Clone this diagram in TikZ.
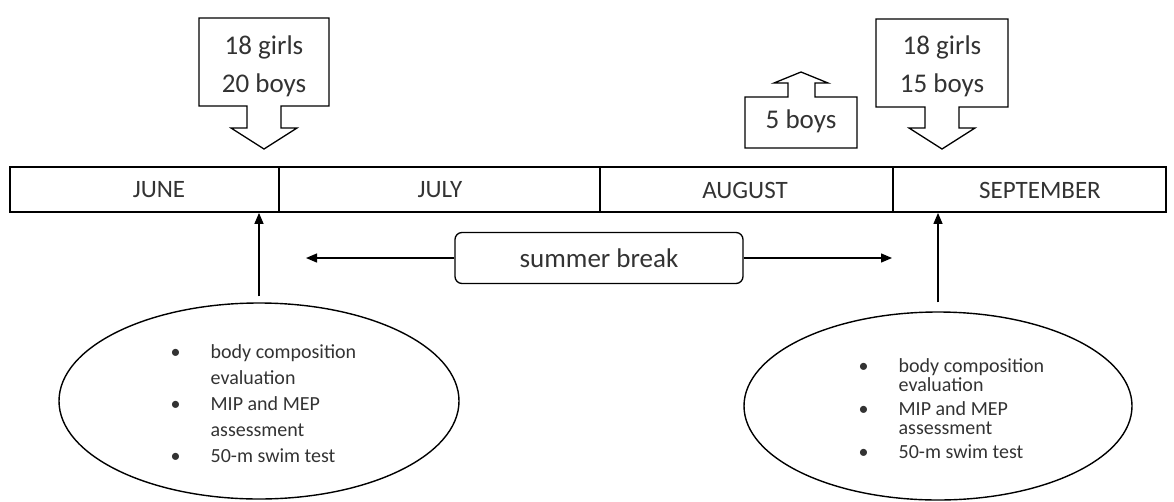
\documentclass[tikz,border=0pt]{standalone}
\usepackage{fontspec}
\setmainfont{Carlito}
\usetikzlibrary{arrows.meta, shapes.geometric}

\begin{document}
\begin{tikzpicture}[x=1pt, y=-1pt, line width=1.3pt,
    month/.style={font=\fontsize{25}{30}\selectfont, text=black!80},
    count/.style={font=\fontsize{27}{38}\selectfont, align=center, text=black!80},
    plan/.style={ellipse, draw, line width=1.4pt, inner sep=0pt},
    tests/.style={anchor=base west, inner sep=0pt, font=\fontsize{20}{26}\selectfont, text=black!80},
    >={Triangle[length=11pt, width=9pt]}]
    \useasboundingbox (0,0) rectangle (1174,501);
    \node[draw, line width=1.8pt, minimum width=1156pt, minimum height=45pt, inner sep=0pt] (bar) at (588,189.5) {};
    \foreach \x in {279,600,893} \draw[line width=1.8pt] (\x,167) -- (\x,212);
    \node[month] (june) at (159,190) {JUNE};
    \node[month] (july) at (440,190) {JULY};
    \node[month] (august) at (745,190) {AUGUST};
    \node[month] (september) at (1040,190) {SEPTEMBER};
    \draw (199,18) -- (329,18) -- (329,106) -- (281,106) -- (281,128) -- (297,128) -- (264,149) -- (231,128) -- (247,128) -- (247,106) -- (199,106) -- cycle;
    \node[count] (inJune) at (264,66) {18 girls\\20 boys};
    \draw (876,19) -- (1008,19) -- (1008,107) -- (959,107) -- (959,128) -- (975,128) -- (942,149) -- (909,128) -- (925,128) -- (925,107) -- (876,107) -- cycle;
    \node[count] (inSept) at (942,66) {18 girls\\15 boys};
    \draw (745,148) -- (745,97) -- (788,97) -- (788,83) -- (774,83) -- (801,72) -- (828,83) -- (815,83) -- (815,97) -- (857,97) -- (857,148) -- cycle;
    \node[count] (outAug) at (801,121) {5 boys};
    \node[draw, rounded corners=7pt, minimum width=288pt, minimum height=51pt, count] (break) at (599,258) {summer break};
    \coordinate (breakL) at (306,258);
    \coordinate (breakR) at (892,258);
    \draw[->] (break) -- (breakL);
    \draw[->] (break) -- (breakR);
    \node[plan, minimum width=400pt, minimum height=196pt] (testsJune) at (259,401) {};
    \node[plan, minimum width=388pt, minimum height=188pt] (testsSept) at (938,406) {};
    \draw[->, shorten <=6pt] (testsJune.north) -- (testsJune.north |- bar.south);
    \draw[->, shorten <=9pt] (testsSept.north) -- (testsSept.north |- bar.south);
    \node[tests] (listJune) at (170,358) {\begin{tabular}[t]{@{}p{40pt}@{}l@{}}
        \textbullet & body composition\\ & evaluation\\ \textbullet & MIP and MEP\\ & assessment\\ \textbullet & 50-m swim test
    \end{tabular}};
    \node[tests, font=\fontsize{20}{24}\selectfont] (listSept) at (858,372) {\begin{tabular}[t]{@{}p{40pt}@{}l@{}}
        \textbullet & body composition\\[-5pt] & evaluation\\ \textbullet & MIP and MEP\\[-5pt] & assessment\\ \textbullet & 50-m swim test
    \end{tabular}};
\end{tikzpicture}
\end{document}
